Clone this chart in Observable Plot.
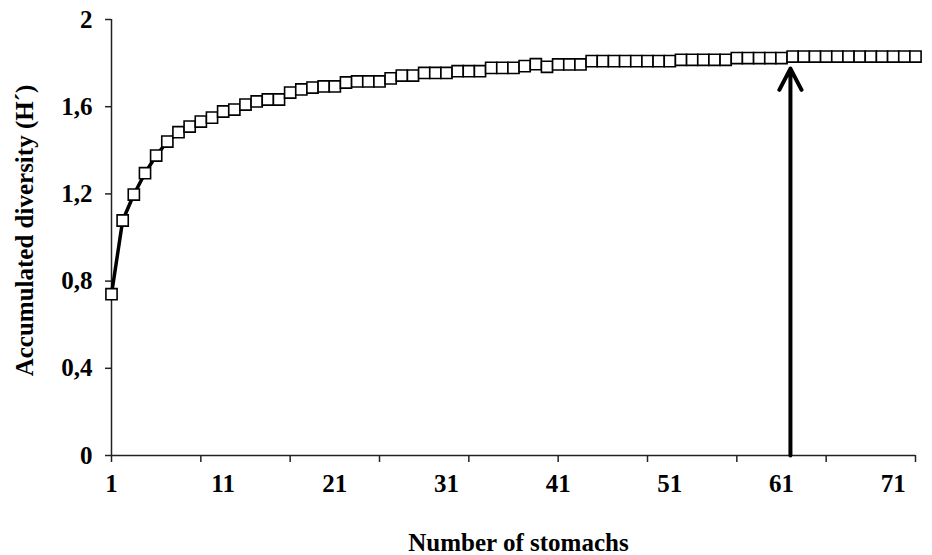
<!DOCTYPE html>
<html>
<head>
<meta charset="utf-8">
<script src="https://cdn.jsdelivr.net/npm/d3@7"></script>
<script src="https://cdn.jsdelivr.net/npm/@observablehq/plot@0.6"></script>
<style>
  html, body { margin: 0; padding: 0; background: #fff; }
</style>
</head>
<body>
<div id="chart"></div>
<script>
// Number of stomachs (categories 1..73)
const stomachs = d3.range(1, 74);
// Accumulated diversity (H')
const diversity = [
  0.74, 1.078, 1.197, 1.295, 1.376, 1.44, 1.483, 1.509, 1.532, 1.55,
  1.578, 1.587, 1.61, 1.624, 1.633, 1.633, 1.665, 1.679, 1.688, 1.693,
  1.693, 1.711, 1.716, 1.716, 1.716, 1.73, 1.743, 1.743, 1.755, 1.755,
  1.755, 1.763, 1.763, 1.763, 1.778, 1.778, 1.778, 1.786, 1.795, 1.783,
  1.794, 1.794, 1.794, 1.809, 1.809, 1.809, 1.809, 1.809, 1.809, 1.809,
  1.809, 1.815, 1.815, 1.815, 1.815, 1.815, 1.823, 1.823, 1.823, 1.823,
  1.823, 1.83, 1.83, 1.83, 1.83, 1.83, 1.83, 1.83, 1.83, 1.83,
  1.83, 1.83, 1.83
];
const xTickMarks = [1, 9, 17, 25, 33, 41, 49, 57, 65, 73];
const xTickLabels = [1, 11, 21, 31, 41, 51, 61, 71];
const yTicks = [0, 0.4, 0.8, 1.2, 1.6, 2];
const arrowAt = [{x: 61.8, from: 0, to: 1.775}];
const xTitle = "Number of stomachs";
const yTitle = "Accumulated diversity (H´)";

const data = stomachs.map((s, i) => ({s, h: diversity[i]}));
const fmt = d => String(d).replace(".", ",");

const chart = Plot.plot({
  width: 932,
  height: 555,
  marginLeft: 111,
  marginRight: 17,
  marginTop: 19,
  marginBottom: 100,
  style: {fontFamily: "'Liberation Serif', 'Times New Roman', serif", fontWeight: "bold", fontSize: "25px", color: "#000", background: "#fff"},
  x: {domain: [1, 73], label: null},
  y: {domain: [0, 2], label: null},
  marks: [
    Plot.axisY({ticks: yTicks, tickSize: 6, tickPadding: 13, tickFormat: fmt, label: null, strokeWidth: 1.5, stroke: "#222", fontSize: 25}),
    Plot.axisX({ticks: xTickMarks, tickSize: 7, tickFormat: () => "", label: null, strokeWidth: 1.5, stroke: "#222"}),
    Plot.axisX({ticks: xTickLabels, tickSize: 0, tickPadding: 19, tickFormat: d => String(d), label: null, fontSize: 25}),
    Plot.ruleY([0], {stroke: "#222", strokeWidth: 1.5}),
    Plot.ruleX([1], {stroke: "#222", strokeWidth: 1.5}),
    Plot.line(data, {x: "s", y: "h", stroke: "#000", strokeWidth: 3.5}),
    Plot.dot(data, {x: "s", y: "h", symbol: "square", r: 6.3, fill: "#fff", stroke: "#000", strokeWidth: 1.6}),
    Plot.arrow(arrowAt, {x: "x", y1: "from", y2: "to", stroke: "#000", strokeWidth: 4, headLength: 9, headAngle: 55}),
    Plot.text([xTitle], {frameAnchor: "bottom", text: d => d, dx: 5, dy: 87, lineAnchor: "middle", textAnchor: "middle", fontSize: 25, fontWeight: "bold"}),
    Plot.text([yTitle], {frameAnchor: "left", text: d => d, rotate: -90, dx: -87, dy: -7, lineAnchor: "middle", textAnchor: "middle", fontSize: 25, fontWeight: "bold"})
  ]
});
document.getElementById("chart").appendChild(chart);
</script>
</body>
</html>
